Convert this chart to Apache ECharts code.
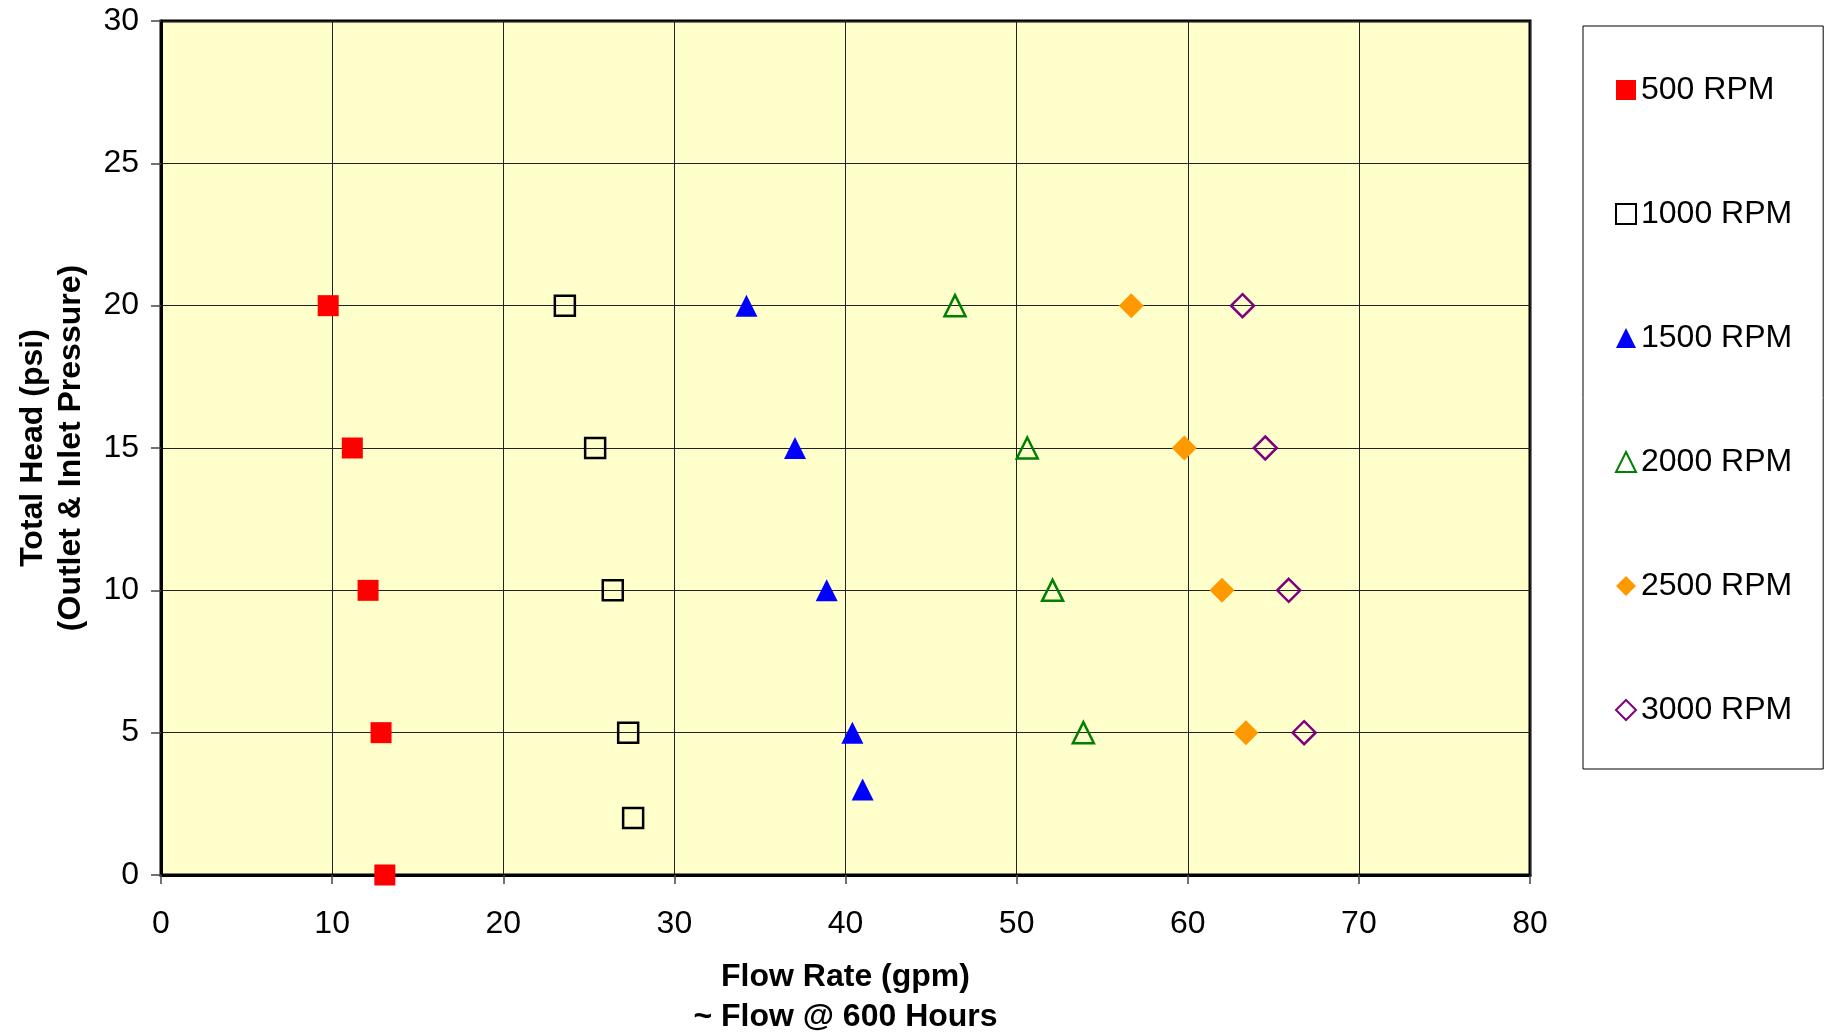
<!DOCTYPE html>
<html>
<head>
<meta charset="utf-8">
<script src="https://cdn.jsdelivr.net/npm/echarts@6/dist/echarts.min.js"></script>
<style>
html,body{margin:0;padding:0;background:#fff;}
#chart{width:1825px;height:1035px;}
</style>
</head>
<body>
<div id="chart"></div>
<script>
var seriesNames = ['500 RPM', '1000 RPM', '1500 RPM', '2000 RPM', '2500 RPM', '3000 RPM'];
var rpm500  = [[9.77, 20], [11.18, 15], [12.1, 10], [12.86, 5], [13.08, 0]];
var rpm1000 = [[23.6, 20], [25.37, 15], [26.4, 10], [27.3, 5], [27.59, 2]];
var rpm1500 = [[34.21, 20], [37.05, 15], [38.9, 10], [40.4, 5], [41.0, 3]];
var rpm2000 = [[46.4, 20], [50.62, 15], [52.1, 10], [53.9, 5]];
var rpm2500 = [[56.7, 20], [59.8, 15], [62.0, 10], [63.4, 5]];
var rpm3000 = [[63.2, 20], [64.53, 15], [65.9, 10], [66.8, 5]];
var xTicks = [0, 10, 20, 30, 40, 50, 60, 70, 80];
var yTicks = [0, 5, 10, 15, 20, 25, 30];

var FONT = 'Liberation Sans, Arial, sans-serif';
var chart = echarts.init(document.getElementById('chart'));

function mk(name, data, symbol, size, fill, stroke, bw) {
  return {
    name: name,
    type: 'scatter',
    data: data,
    symbol: symbol,
    symbolSize: size,
    itemStyle: { color: fill, borderColor: stroke, borderWidth: bw, opacity: 1 },
    emphasis: { disabled: true },
    z: 5
  };
}

var option = {
  backgroundColor: '#ffffff',
  animation: false,
  grid: {
    left: 161, right: 295, top: 21, bottom: 160,
    outerBoundsMode: 'none',
    containLabel: false,
    show: true, backgroundColor: '#FFFFCC', borderColor: '#000', borderWidth: 3
  },
  legend: {
    orient: 'vertical',
    left: 1583, top: 26,
    padding: [48, 31, 43, 32],
    itemGap: 92,
    itemWidth: 20, itemHeight: 20,
    borderColor: '#000', borderWidth: 1, backgroundColor: '#fff',
    selectedMode: false,
    textStyle: { fontFamily: FONT, fontSize: 32, color: '#000', lineHeight: 32 },
    data: seriesNames
  },
  xAxis: {
    type: 'value', min: xTicks[0], max: xTicks[xTicks.length - 1], interval: 10,
    name: 'Flow Rate (gpm)\n~ Flow @ 600 Hours',
    nameLocation: 'middle', nameGap: 82,
    nameTextStyle: { fontFamily: FONT, fontSize: 32, fontWeight: 'bold', color: '#000', lineHeight: 40 },
    axisLine: { show: true, lineStyle: { color: '#000', width: 3 } },
    axisTick: { show: true, length: 9, lineStyle: { color: '#444', width: 1.5 } },
    axisLabel: { fontFamily: FONT, fontSize: 32, color: '#000', margin: 33 },
    splitLine: { show: true, lineStyle: { color: '#222', width: 1 } }
  },
  yAxis: {
    type: 'value', min: yTicks[0], max: yTicks[yTicks.length - 1], interval: 5,
    name: 'Total Head (psi)\n(Outlet & Inlet Pressure)',
    nameLocation: 'middle', nameGap: 71, nameRotate: 90,
    nameTextStyle: { fontFamily: FONT, fontSize: 32, fontWeight: 'bold', color: '#000', lineHeight: 38 },
    axisLine: { show: true, lineStyle: { color: '#000', width: 3 } },
    axisTick: { show: true, length: 10, lineStyle: { color: '#444', width: 1.5 } },
    axisLabel: { fontFamily: FONT, fontSize: 32, color: '#000', margin: 22 },
    splitLine: { show: true, lineStyle: { color: '#222', width: 1 } }
  },
  series: [
    mk(seriesNames[0], rpm500, 'rect', 21, '#FF0000', '#FF0000', 0),
    mk(seriesNames[1], rpm1000, 'rect', 20, 'rgba(0,0,0,0)', '#000000', 2.5),
    mk(seriesNames[2], rpm1500, 'triangle', 22, '#0000FF', '#0000FF', 0),
    mk(seriesNames[3], rpm2000, 'triangle', 21, 'rgba(0,0,0,0)', '#008000', 2.5),
    mk(seriesNames[4], rpm2500, 'diamond', 25, '#FF9900', '#FF9900', 0),
    mk(seriesNames[5], rpm3000, 'diamond', 23, 'rgba(0,0,0,0)', '#800080', 2.5)
  ]
};
chart.setOption(option);
</script>
</body>
</html>
